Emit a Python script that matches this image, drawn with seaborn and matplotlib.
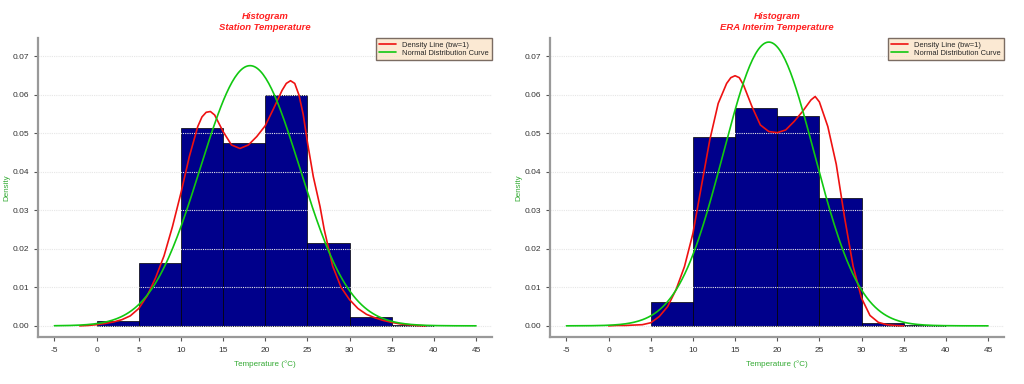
import numpy as np
import seaborn as sns
import matplotlib.pyplot as plt
from matplotlib.lines import Line2D

sns.set_style("white")
plt.rcParams["font.family"] = ["Liberation Sans", "DejaVu Sans"]

# histogram bins (density per 5 degree bin)
station_edges = [0, 5, 10, 15, 20, 25, 30, 35, 40]
station_dens = [0.0012, 0.0163, 0.0513, 0.0476, 0.0600, 0.0215, 0.0024, 0.0001]
era_edges = [5, 10, 15, 20, 25, 30, 35, 40]
era_dens = [0.0063, 0.0490, 0.0565, 0.0545, 0.0333, 0.0007, 0.0001]

# kernel density lines (bw=1)
station_kde_x = [-2, -1, 0, 1, 2, 3, 4, 5, 6, 7, 8, 9, 10, 11, 12, 12.5, 13, 13.5, 14, 15, 16, 17,
                 18, 19, 20, 21, 22, 22.5, 23, 23.5, 24, 24.5, 25, 25.7, 26.5, 27, 28, 29, 30, 31,
                 32, 33, 34, 35, 36, 37, 38, 39]
station_kde_y = [0.0000, 0.0001, 0.0003, 0.0006, 0.0010, 0.0016, 0.0026, 0.0045, 0.0078, 0.0125,
                 0.0182, 0.0258, 0.0345, 0.0440, 0.0518, 0.0543, 0.0555, 0.0557, 0.0548, 0.0505,
                 0.0470, 0.0461, 0.0470, 0.0492, 0.0520, 0.0565, 0.0612, 0.0630, 0.0637, 0.0630,
                 0.0600, 0.0550, 0.0478, 0.0388, 0.0310, 0.0250, 0.0155, 0.0100, 0.0068, 0.0045,
                 0.0030, 0.0021, 0.0014, 0.0009, 0.0005, 0.0003, 0.0001, 0.0000]
era_kde_x = [0, 1, 2, 3, 4, 5, 6, 7, 8, 9, 10, 11, 12, 13, 14, 14.5, 15, 15.5, 16, 17, 18, 19, 20,
             21, 22, 23, 24, 24.5, 25, 26, 27, 28, 29, 30, 31, 32, 33, 34, 35]
era_kde_y = [0.0000, 0.0001, 0.0001, 0.0002, 0.0003, 0.0008, 0.0024, 0.0050, 0.0094, 0.0154,
             0.0240, 0.0362, 0.0483, 0.0578, 0.0630, 0.0645, 0.0650, 0.0645, 0.0626, 0.0570,
             0.0522, 0.0505, 0.0502, 0.0509, 0.0531, 0.0557, 0.0587, 0.0596, 0.0582, 0.0518,
             0.0420, 0.0280, 0.0155, 0.0072, 0.0027, 0.0009, 0.0003, 0.0001, 0.0000]

# fitted normal curves (mean, sd)
station_norm = (18.2, 5.9)
era_norm = (19.0, 5.41)

titles = ["Histogram\nStation Temperature", "Histogram\nERA Interim Temperature"]
xticks = list(range(-5, 50, 5))
yticks = [0.00, 0.01, 0.02, 0.03, 0.04, 0.05, 0.06, 0.07]

fig = plt.figure(figsize=(10.24, 3.84), dpi=100)
axes = [fig.add_axes([0.0371, 0.1224, 0.4434, 0.7786]),
        fig.add_axes([0.5371, 0.1224, 0.4434, 0.7786])]

panels = [(station_edges, station_dens, station_kde_x, station_kde_y, station_norm),
          (era_edges, era_dens, era_kde_x, era_kde_y, era_norm)]

for ax, title, (edges, dens, kx, ky, (mu, sd)) in zip(axes, titles, panels):
    centers = [(a + b) / 2 for a, b in zip(edges[:-1], edges[1:])]
    sns.histplot(x=centers, weights=dens, bins=edges, stat="count", ax=ax,
                 color="#00008b", alpha=1, edgecolor="black", linewidth=0.5, zorder=1)

    # dotted grid drawn over the bars
    for yv in yticks:
        ax.axhline(yv, color="#e6e6e6", ls=(0, (1, 1)), lw=0.8, zorder=1.5)

    sns.lineplot(x=kx, y=ky, ax=ax, color="#ee1111", lw=1.2, zorder=3, sort=False)
    gx = np.linspace(-5, 45, 300)
    gy = np.exp(-0.5 * ((gx - mu) / sd) ** 2) / (sd * np.sqrt(2 * np.pi))
    sns.lineplot(x=gx, y=gy, ax=ax, color="#11c811", lw=1.2, zorder=3, sort=False)

    ax.set_xlim(-6.95, 46.9)
    ax.set_ylim(-0.0029, 0.0748)
    ax.set_xticks(xticks)
    ax.set_xticklabels([str(t) for t in xticks])
    ax.set_yticks(yticks)
    ax.set_yticklabels([f"{t:.2f}" for t in yticks])
    ax.tick_params(axis="both", labelsize=6, colors="#555555", labelcolor="#333333",
                   length=3, width=0.8, direction="out", left=True, bottom=True)
    ax.tick_params(axis="x", pad=4)
    for side in ["top", "right"]:
        ax.spines[side].set_visible(False)
    for side in ["left", "bottom"]:
        ax.spines[side].set_color("#999999")
        ax.spines[side].set_linewidth(1.6)

    ax.set_xlabel("Temperature (°C)", fontsize=5.8, color="#33aa33", labelpad=5)
    ax.set_ylabel("Density", fontsize=5.8, color="#33aa33", labelpad=1.5)
    ax.set_title(title, fontsize=6.8, color="#ff2020", fontweight="bold",
                 fontstyle="italic", pad=6, linespacing=1.2)

    handles = [Line2D([], [], color="#ee1111", lw=1.2),
               Line2D([], [], color="#11c811", lw=1.2)]
    leg = ax.legend(handles, ["Density Line (bw=1)", "Normal Distribution Curve"],
                    loc="upper right", bbox_to_anchor=(1.0, 1.0), borderaxespad=0,
                    fontsize=5.4, frameon=True, fancybox=False, handlelength=2.2,
                    labelspacing=0.15, borderpad=0.45)
    leg.get_frame().set_facecolor("#fbe4c8")
    leg.get_frame().set_edgecolor("#5a4a40")
    leg.get_frame().set_linewidth(1.0)

fig.savefig("out.png", dpi=100)
